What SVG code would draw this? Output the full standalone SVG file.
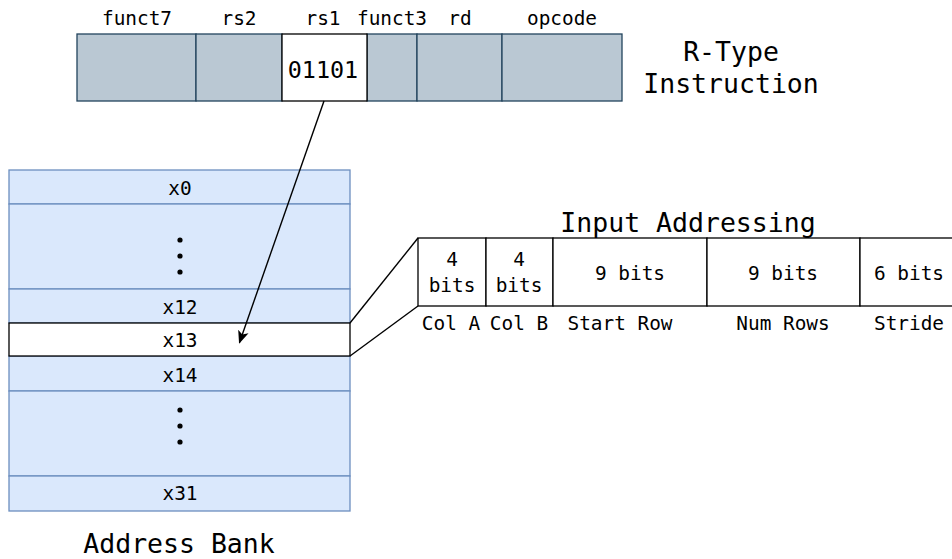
<svg xmlns="http://www.w3.org/2000/svg" width="952" height="559" viewBox="0 0 952 559">
  <style>
    text { font-family: "DejaVu Sans Mono", "Liberation Mono", monospace; fill: #000; text-anchor: middle; }
    .sm { font-size: 19.4px; }
    .md { font-size: 23.4px; }
    .lg { font-size: 26.5px; }
    .field { fill: #bac8d3; stroke: #23445d; stroke-width: 1.3; }
    .sel { fill: #ffffff; stroke: #000000; stroke-width: 1.3; }
    .reg { fill: #dae8fc; stroke: #6c8ebf; stroke-width: 1.3; }
    .cell { fill: #ffffff; stroke: #000000; stroke-width: 1.3; }
    .line { fill: none; stroke: #000000; stroke-width: 1.4; }
  </style>
  <defs>
    <marker id="arrow" viewBox="0 0 10 10" refX="9" refY="5" markerWidth="13" markerHeight="13" markerUnits="userSpaceOnUse" orient="auto">
      <path d="M0,0.8 L10,5 L0,9.2 L2.5,5 Z" fill="#000"/>
    </marker>
  </defs>

  <!-- R-type instruction fields -->
  <g id="instruction">
    <text class="sm" x="137" y="25">funct7</text>
    <text class="sm" x="239" y="25">rs2</text>
    <text class="sm" x="323" y="25">rs1</text>
    <text class="sm" x="392" y="25">funct3</text>
    <text class="sm" x="460" y="25">rd</text>
    <text class="sm" x="562" y="25">opcode</text>
    <rect id="funct7" class="field" x="77" y="34" width="119" height="67"/>
    <rect id="rs2" class="field" x="196" y="34" width="86" height="67"/>
    <rect id="funct3" class="field" x="367" y="34" width="50" height="67"/>
    <rect id="rd" class="field" x="417" y="34" width="85" height="67"/>
    <rect id="opcode" class="field" x="502" y="34" width="120" height="67"/>
    <g id="rs1">
      <rect class="sel" x="282" y="34" width="85" height="67"/>
      <text class="md" x="323" y="77.5">01101</text>
    </g>
  </g>
  <g id="instruction-label">
    <text class="lg" x="731" y="60.5">R-Type</text>
    <text class="lg" x="731" y="93.3">Instruction</text>
  </g>

  <!-- Address bank registers -->
  <g id="address-bank">
    <g id="x0">
      <rect class="reg" x="9" y="170" width="341" height="34"/>
      <text class="sm" x="180" y="195">x0</text>
    </g>
    <g id="gap-low">
      <rect class="reg" x="9" y="204" width="341" height="85"/>
      <circle cx="180" cy="240" r="2.6"/>
      <circle cx="180" cy="256" r="2.6"/>
      <circle cx="180" cy="272" r="2.6"/>
    </g>
    <g id="x12">
      <rect class="reg" x="9" y="289" width="341" height="34"/>
      <text class="sm" x="180" y="314">x12</text>
    </g>
    <g id="x14">
      <rect class="reg" x="9" y="356" width="341" height="35"/>
      <text class="sm" x="180" y="381.5">x14</text>
    </g>
    <g id="gap-high">
      <rect class="reg" x="9" y="391" width="341" height="85"/>
      <circle cx="180" cy="410" r="2.6"/>
      <circle cx="180" cy="426" r="2.6"/>
      <circle cx="180" cy="442" r="2.6"/>
    </g>
    <g id="x31">
      <rect class="reg" x="9" y="476" width="341" height="35"/>
      <text class="sm" x="180" y="500">x31</text>
    </g>
    <g id="x13">
      <rect class="sel" x="9" y="323" width="341" height="33"/>
      <text class="sm" x="180" y="347">x13</text>
    </g>
    <text class="lg" x="179" y="553">Address Bank</text>
  </g>

  <!-- Input addressing layout -->
  <g id="input-addressing">
    <text class="lg" x="688" y="231.5">Input Addressing</text>
    <g id="col-a">
      <rect class="cell" x="418" y="238" width="68" height="68"/>
      <text class="sm" x="452" y="266">4</text>
      <text class="sm" x="452" y="291.5">bits</text>
      <text class="sm" x="451" y="330">Col A</text>
    </g>
    <g id="col-b">
      <rect class="cell" x="486" y="238" width="67" height="68"/>
      <text class="sm" x="519" y="266">4</text>
      <text class="sm" x="519" y="291.5">bits</text>
      <text class="sm" x="519" y="330">Col B</text>
    </g>
    <g id="start-row">
      <rect class="cell" x="553" y="238" width="154" height="68"/>
      <text class="sm" x="630" y="280">9 bits</text>
      <text class="sm" x="620" y="330">Start Row</text>
    </g>
    <g id="num-rows">
      <rect class="cell" x="707" y="238" width="153" height="68"/>
      <text class="sm" x="783" y="280">9 bits</text>
      <text class="sm" x="783" y="330">Num Rows</text>
    </g>
    <g id="stride">
      <rect class="cell" x="860" y="238" width="98" height="68"/>
      <text class="sm" x="909" y="280">6 bits</text>
      <text class="sm" x="909" y="330">Stride</text>
    </g>
  </g>

  <!-- Connectors -->
  <g id="connectors">
    <line class="line" x1="324" y1="101" x2="239.5" y2="342.5" marker-end="url(#arrow)"/>
    <line class="line" x1="350" y1="323" x2="418" y2="238"/>
    <line class="line" x1="350" y1="356" x2="418" y2="306"/>
  </g>
</svg>
